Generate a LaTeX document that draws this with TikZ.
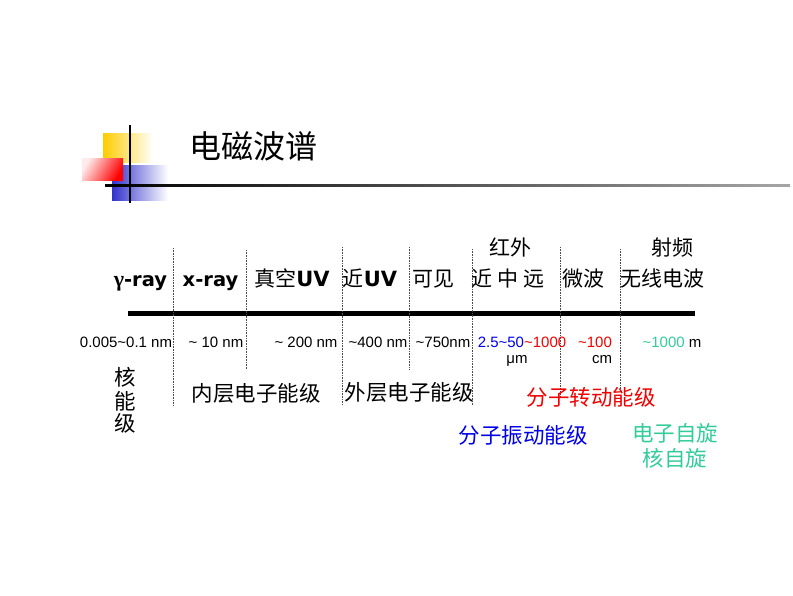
\documentclass[tikz,border=0pt]{standalone}
\usepackage{fontspec}
\setmainfont{DejaVu Sans}
\newfontfamily\cjk{Noto Sans CJK SC}
\newfontfamily\numfont{Liberation Sans}
\newfontfamily\grk{Liberation Serif}
\definecolor{myblue}{RGB}{0,0,230}
\definecolor{myred}{RGB}{240,0,0}
\definecolor{myteal}{RGB}{51,204,153}
\definecolor{myyellow}{RGB}{255,204,0}
\definecolor{mysq}{RGB}{51,51,204}
\tikzset{
  lbl/.style={inner sep=0pt, anchor=base, font=\fontsize{21}{24}\selectfont\cjk},
  blbl/.style={inner sep=0pt, anchor=base, font=\fontsize{19.5}{22}\selectfont\bfseries},
  num/.style={inner sep=0pt, anchor=base, font=\fontsize{15}{17}\selectfont\numfont},
  lvl/.style={inner sep=0pt, anchor=base, font=\fontsize{21.5}{24}\selectfont\cjk},
  sep/.style={densely dotted, line width=0.6pt, black!70},
}
\begin{document}
\begin{tikzpicture}[x=1pt,y=-1pt]
\useasboundingbox (0,0) rectangle (793,595);
% decoration
\shade[left color=myyellow, right color=white] (103,133) rectangle (153,162);
\shade[left color=mysq, right color=white] (112,165) rectangle (168,200);
\shade[left color=red!8, right color=red, shading angle=60] (82,158) rectangle (123,180);
\shade[left color=black, right color=black!35] (105,184) rectangle (790,186.5);
\draw[line width=1.5pt] (130,125) -- (130,203);
% title
\node[inner sep=0pt, anchor=base, font=\fontsize{32}{36}\selectfont\cjk] (title) at (253,158) {电磁波谱};
% main axis
\coordinate (axL) at (128,313.5);
\coordinate (axR) at (695,313.5);
\draw[line width=5pt] (axL) -- (axR);
% separators
\foreach \n/\x/\a/\b in {s1/173/248/406, s2/246/250/370, s3/342/247/405, s4/409/247/370, s5/472/249/405, s6/560/247/397, s7/620/249/390}{
  \coordinate (\n t) at (\x,\a);
  \coordinate (\n b) at (\x,\b);
  \draw[sep] (\n t) -- (\n b);
}
% top labels
\node[blbl] (gamma) at (140.5,286) {{\grk\fontsize{22}{24}\selectfont γ}-ray};
\node[blbl] (xray) at (210.5,286) {x-ray};
\node[lbl] (vuv) at (292,286) {真空{\fontspec{DejaVu Sans}\bfseries UV}};
\node[lbl] (nuv) at (370,286) {近{\fontspec{DejaVu Sans}\bfseries UV}};
\node[lbl] (vis) at (433,286) {可见};
\node[lbl] (ir) at (508,286) {近 中 远};
\node[lbl] (irh) at (510,255) {红外};
\node[lbl] (mw) at (583,286) {微波};
\node[lbl] (radio) at (662,286) {无线电波};
\node[lbl] (rf) at (672,255) {射频};
% numbers
\node[num] (n1) at (126,347) {0.005\char"007E 0.1 nm};
\node[num] (n2) at (216,347) {\char"007E\ 10 nm};
\node[num] (n3) at (306,347) {\char"007E\ 200 nm};
\node[num] (n4) at (378,347) {\char"007E 400 nm};
\node[num] (n5) at (443,347) {\char"007E 750nm};
\node[num] (n6) at (522,347) {\textcolor{myblue}{2.5\char"007E 50}\textcolor{myred}{\char"007E 1000}};
\node[num] (n6u) at (517,363) {μm};
\node[num, text=myred] (n7) at (595,347) {\char"007E 100};
\node[num] (n7u) at (602,363) {cm};
\node[num] (n8) at (672,347) {\textcolor{myteal}{\char"007E 1000} m};
% levels
\node[lvl] (k1) at (125,385) {核};
\node[lvl] (k2) at (125,409) {能};
\node[lvl] (k3) at (125,431) {级};
\node[lvl] (inner) at (256,401) {内层电子能级};
\node[lvl] (outer) at (409,400) {外层电子能级};
\node[lvl, text=myred] (rot) at (591,405) {分子转动能级};
\node[lvl, text=myblue] (vib) at (523,443) {分子振动能级};
\node[lvl, text=myteal] (espin) at (675,441) {电子自旋};
\node[lvl, text=myteal] (nspin) at (675,466) {核自旋};
\end{tikzpicture}
\end{document}
